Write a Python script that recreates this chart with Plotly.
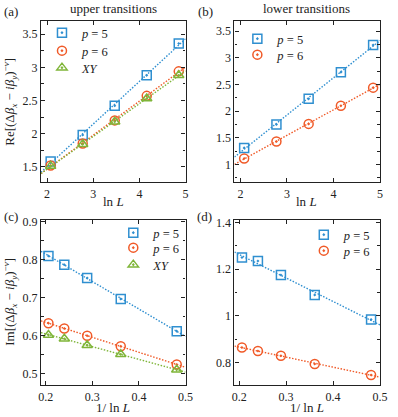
import numpy as np
import plotly.graph_objects as go

# ---------------- data ----------------
lnL = [2.079, 2.773, 3.466, 4.159, 4.852]
inv_lnL = [0.481, 0.361, 0.289, 0.240, 0.206]

# (a) upper transitions, real part
re_up_p5 = [1.58, 1.98, 2.42, 2.88, 3.36]
re_up_p6 = [1.52, 1.85, 2.20, 2.57, 2.94]
re_up_xy = [1.51, 1.84, 2.18, 2.53, 2.88]

# (b) lower transitions, real part
re_lo_p5 = [1.31, 1.75, 2.23, 2.73, 3.24]
re_lo_p6 = [1.11, 1.43, 1.76, 2.10, 2.44]

# (c) upper transitions, imaginary part (ordered like inv_lnL)
im_up_p5 = [0.612, 0.697, 0.752, 0.787, 0.810]
im_up_p6 = [0.524, 0.572, 0.600, 0.619, 0.633]
im_up_xy = [0.510, 0.551, 0.575, 0.592, 0.602]

# (d) lower transitions, imaginary part
im_lo_p5 = [0.985, 1.090, 1.175, 1.235, 1.250]
im_lo_p6 = [0.748, 0.795, 0.830, 0.850, 0.865]

xtick_a = [2, 3, 4, 5]
xtick_c = [0.2, 0.3, 0.4, 0.5]

BLUE = "#2f8fd0"
ORANGE = "#f05a28"
GREEN = "#7fb539"
FONT = "Liberation Serif"

W, H = 398, 417
ML, MR, MT, MB = 41, 10, 21, 32
PW, PH = W - ML - MR, H - MT - MB


def px2x(px):
    return (px - ML) / PW


def px2y(py):
    return (H - MB - py) / PH


fig = go.Figure()

XR_TOP = [1.87, 5.0]
XR_BOT = [0.19, 0.5]

legfont = dict(family=FONT, size=12.5, color="#222")
legends = {}


def add_series(x, y, color, symbol, name, xa, ya, legpos, xr):
    xa_s = "x" if xa == 1 else f"x{xa}"
    ya_s = "y" if ya == 1 else f"y{ya}"
    coef = np.polyfit(x, y, 1)
    xs = np.array(xr)
    fig.add_trace(go.Scatter(x=xs, y=np.polyval(coef, xs), mode="lines",
                             line=dict(color=color, width=1.4, dash="1.5px,1.6px"),
                             showlegend=False, xaxis=xa_s, yaxis=ya_s, hoverinfo="skip"))
    key = "legend" if not legends else f"legend{len(legends) + 1}"
    mx, my = legpos  # marker centre in pixels
    legends[key] = dict(x=px2x(mx - 20), y=px2y(my - 17), xanchor="left", yanchor="top",
                        bgcolor="rgba(0,0,0,0)", font=legfont, itemwidth=30)
    fig.add_trace(go.Scatter(x=x, y=y, mode="markers", name=name,
                             marker=dict(symbol=symbol, size=9, color=color,
                                         line=dict(color=color, width=1.5)),
                             xaxis=xa_s, yaxis=ya_s, legend=key))


P5 = "<i>p</i> = 5"
P6 = "<i>p</i> = 6"
XY = "<i>XY</i>"

add_series(lnL, re_up_p5, BLUE, "square-open-dot", P5, 1, 1, (62, 35), XR_TOP)
add_series(lnL, re_up_p6, ORANGE, "circle-open-dot", P6, 1, 1, (62, 53), XR_TOP)
add_series(lnL, re_up_xy, GREEN, "triangle-up-open-dot", XY, 1, 1, (62, 70), XR_TOP)

add_series(lnL, re_lo_p5, BLUE, "square-open-dot", P5, 2, 2, (262, 41), XR_TOP)
add_series(lnL, re_lo_p6, ORANGE, "circle-open-dot", P6, 2, 2, (262, 57), XR_TOP)

add_series(inv_lnL, im_up_p5, BLUE, "square-open-dot", P5, 3, 3, (135, 235), XR_BOT)
add_series(inv_lnL, im_up_p6, ORANGE, "circle-open-dot", P6, 3, 3, (135, 250), XR_BOT)
add_series(inv_lnL, im_up_xy, GREEN, "triangle-up-open-dot", XY, 3, 3, (135, 267), XR_BOT)

add_series(inv_lnL, im_lo_p5, BLUE, "square-open-dot", P5, 4, 4, (330, 237), XR_BOT)
add_series(inv_lnL, im_lo_p6, ORANGE, "circle-open-dot", P6, 4, 4, (330, 253), XR_BOT)

dom_xl = [0, px2x(189)]
dom_xr = [px2x(239), 1]
dom_yt = [px2y(182), 1]
dom_yb = [0, px2y(220)]

tickfont = dict(family=FONT, size=12, color="#222")


def axis(domain, anchor, rng, tickvals, dtick_minor=None, fmt=None):
    d = dict(domain=domain, anchor=anchor, range=rng, tickvals=tickvals,
             ticktext=[fmt(v) for v in tickvals] if fmt else None,
             ticks="inside", ticklen=4, tickwidth=1, tickcolor="#222",
             showline=True, linecolor="#222", linewidth=1.2, mirror="ticks",
             showgrid=False, zeroline=False, tickfont=tickfont)
    if dtick_minor:
        d["minor"] = dict(dtick=dtick_minor, ticks="inside", ticklen=2.5,
                          tickcolor="#222", showgrid=False)
    return d


def gfmt(v):
    return f"{v:g}"


fig.update_layout(
    xaxis=axis(dom_xl, "y", XR_TOP, xtick_a, fmt=gfmt),
    yaxis=axis(dom_yt, "x", [1.27, 3.7], [1.5, 2, 2.5, 3, 3.5], 0.25, gfmt),
    xaxis2=axis(dom_xr, "y2", XR_TOP, xtick_a, fmt=gfmt),
    yaxis2=axis(dom_yt, "x2", [0.67, 3.69], [1, 1.5, 2, 2.5, 3, 3.5], 0.25, gfmt),
    xaxis3=axis(dom_xl, "y3", XR_BOT, xtick_c, fmt=lambda v: f"{v:.1f}"),
    yaxis3=axis(dom_yb, "x3", [0.47, 0.905], [0.5, 0.6, 0.7, 0.8, 0.9], 0.05, lambda v: f"{v:.1f}"),
    xaxis4=axis(dom_xr, "y4", XR_BOT, xtick_c, fmt=lambda v: f"{v:.1f}"),
    yaxis4=axis(dom_yb, "x4", [0.705, 1.41], [0.8, 1.0, 1.2, 1.4], 0.1, gfmt),
)

fig.update_layout(**legends)

ann = []


def text(xpx, ypx, s, size=13, angle=0):
    ann.append(dict(x=px2x(xpx), y=px2y(ypx), xref="paper", yref="paper",
                    text=s, showarrow=False, textangle=angle,
                    font=dict(family=FONT, size=size, color="#222"),
                    xanchor="center", yanchor="middle"))


text(10, 11, "(a)")
text(209, 11, "(b)")
text(10, 216, "(c)")
text(208, 216, "(d)")
text(115, 9, "upper transitions")
text(313, 9, "lower transitions")
text(115, 201, "ln <i>L</i>")
text(313, 201, "ln <i>L</i>")
text(115, 407, "1/ ln <i>L</i>")
text(313, 407, "1/ ln <i>L</i>")
text(9, 102, "Re[(Δ<i>β<sub>x</sub></i> − <i>iβ<sub>y</sub></i>)<sup>−<i>ν</i></sup>]", angle=-90)
text(9, 302, "Im[(Δ<i>β<sub>x</sub></i> − <i>iβ<sub>y</sub></i>)<sup>−<i>ν</i></sup>]", angle=-90)

fig.update_layout(
    annotations=ann,
    width=W, height=H,
    margin=dict(l=ML, r=MR, t=MT, b=MB, pad=0),
    paper_bgcolor="white", plot_bgcolor="white",
    font=dict(family=FONT, color="#222"),
)

# remove the default 8px page margin so the figure fills the window exactly
fig.write_html("out.html", config={"displayModeBar": False},
               post_script="document.body.style.margin='0px';")
